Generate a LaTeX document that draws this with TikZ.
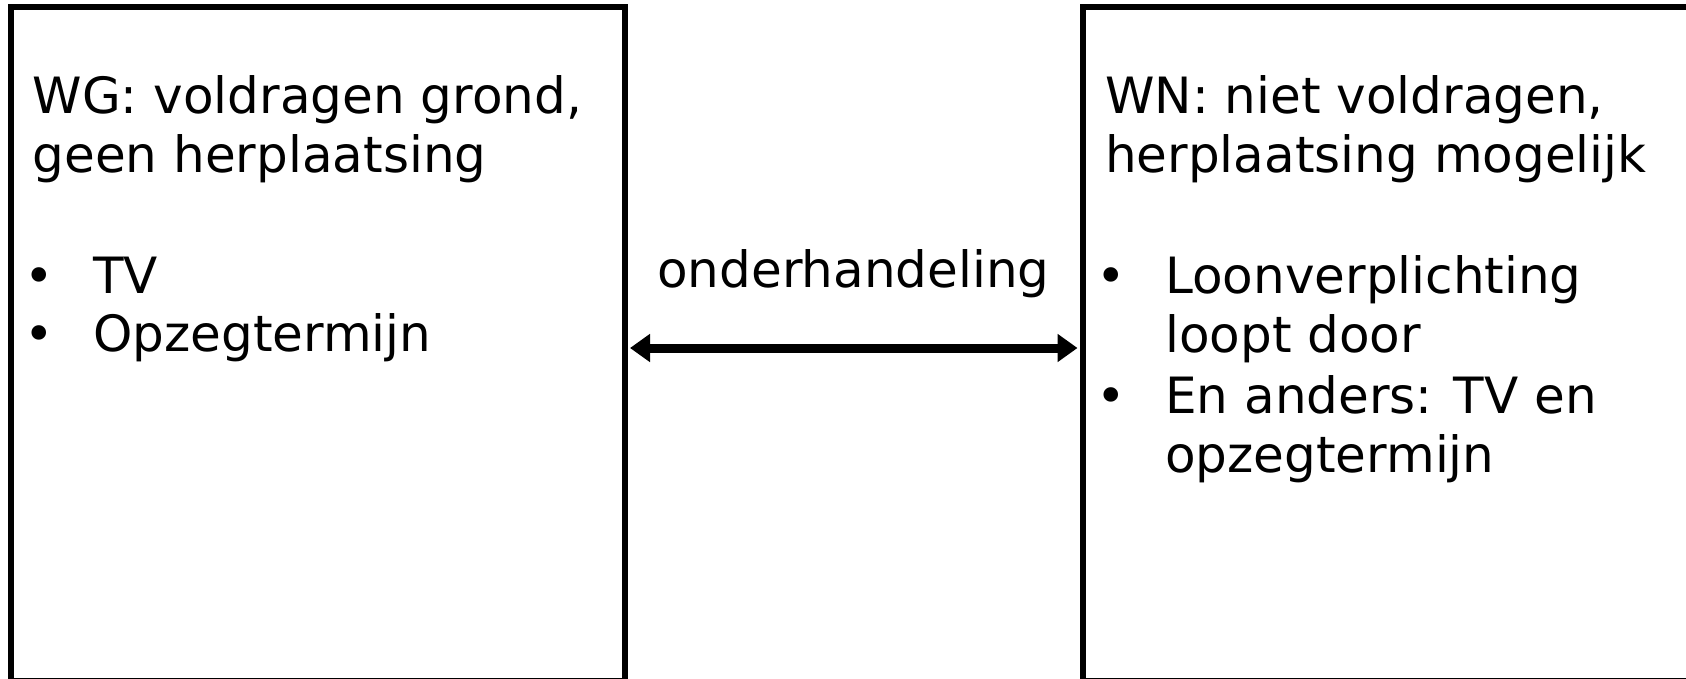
\documentclass[tikz,border=0pt]{standalone}
\usepackage{fontspec}
\setmainfont{DejaVu Sans}
\usetikzlibrary{arrows.meta}
\tikzset{
  boxframe/.style={draw=black, line width=6pt, rectangle, inner sep=0pt, minimum height=674pt},
  txt/.style={anchor=base west, inner sep=0pt, font=\fontsize{50}{58.7}\selectfont},
  bul/.style={anchor=base, inner sep=0pt, font=\fontsize{50}{58.7}\selectfont},
  link/.style={line width=9pt, {Triangle[length=20pt,width=27pt]}-{Triangle[length=20pt,width=27pt]}, shorten <=2.5pt, shorten >=2.5pt}
}
\begin{document}
\begin{tikzpicture}[x=1pt,y=-1pt]
\useasboundingbox (0,0) rectangle (1686,679);
% boxes
\node[boxframe, minimum width=614pt] (L) at (317.5,344) {};
\node[boxframe, minimum width=617pt] (R) at (1391.5,344) {};
% left texts
\node[txt] (lh) at (32.5,114) {\vtop{\hbox{WG: voldragen grond,}\hbox{geen herplaatsing}}};
\node[bul] (lb1) at (39,293.3) {•};
\node[txt] (lt1) at (93,293.3) {TV};
\node[bul] (lb2) at (39,351.7) {•};
\node[txt] (lt2) at (93,351.7) {Opzegtermijn};
% right texts
\node[txt] (rh) at (1105,114) {\vtop{\hbox{WN: niet voldragen,}\hbox{herplaatsing mogelijk}}};
\node[bul] (rb1) at (1111.7,293.3) {•};
\node[txt] (rt1) at (1165,293.3) {\vtop{\hbox{Loonverplichting}\hbox{loopt door}}};
\node[bul] (rb2) at (1111.7,413.3) {•};
\node[txt] (rt2) at (1165,413.3) {\vtop{\hbox{En anders: TV en}\hbox{opzegtermijn}}};
% middle
\node[txt] (mid) at (657,287) {onderhandeling};
\draw[link] ([yshift=-4pt]L.east) -- ([yshift=-4pt]R.west);
\end{tikzpicture}
\end{document}
